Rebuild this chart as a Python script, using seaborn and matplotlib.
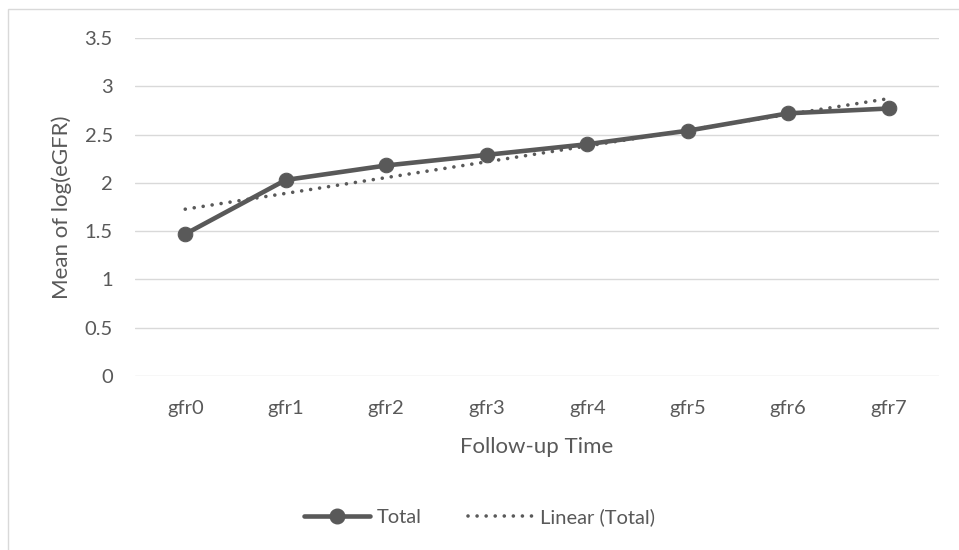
import numpy as np
import pandas as pd
import matplotlib
matplotlib.use("Agg")
import matplotlib.pyplot as plt
import seaborn as sns
from matplotlib.patches import Rectangle
from matplotlib.lines import Line2D

categories = ["gfr0", "gfr1", "gfr2", "gfr3", "gfr4", "gfr5", "gfr6", "gfr7"]
total = [1.47, 2.03, 2.18, 2.29, 2.40, 2.54, 2.72, 2.77]
yticks = [0, 0.5, 1, 1.5, 2, 2.5, 3, 3.5]
ytick_labels = ["0", "0.5", "1", "1.5", "2", "2.5", "3", "3.5"]

sns.set_style("white")
plt.rcParams['font.family'] = ['Lato', 'DejaVu Sans']

GRAY = "#595959"
DOT = (0, (0.01, 2.5))
fig = plt.figure(figsize=(9.59, 5.5), dpi=100)
ax = fig.add_axes([135/959, (550-376)/550, (939-135)/959, (376-38)/550])

x = np.arange(len(categories))
df = pd.DataFrame({"pos": x, "Total": total})
coef = np.polyfit(x, np.array(total), 1)
df["trend"] = np.polyval(coef, x)

sns.lineplot(data=df, x="pos", y="trend", ax=ax, color=GRAY, lw=2.6,
             linestyle=DOT, dash_capstyle="round", zorder=2)
sns.lineplot(data=df, x="pos", y="Total", ax=ax, color=GRAY, lw=3.3,
             marker="o", markersize=10.5, markeredgecolor=GRAY, zorder=3)

ax.set_xlim(-0.5, 7.5)
ax.set_ylim(0, 3.5)
ax.set_xticks(x)
ax.set_xticklabels(categories)
ax.set_yticks(yticks)
ax.set_yticklabels(ytick_labels)
ax.tick_params(axis="both", labelsize=14.5, colors=GRAY, length=0)
ax.tick_params(axis="x", pad=17)
ax.tick_params(axis="y", pad=16)
ax.grid(axis="y", color="#D9D9D9", lw=1.0)
ax.grid(axis="x", visible=False)
for s in ax.spines.values():
    s.set_visible(False)
ax.set_xlabel("Follow-up Time", fontsize=16, color=GRAY, labelpad=15)
ax.set_ylabel("Mean of log(eGFR)", fontsize=16, color=GRAY, labelpad=9)

# chart border
fig.patches.append(Rectangle((8/959, -0.1), 1.2, (550-9)/550 + 0.1,
                             transform=fig.transFigure, fill=False,
                             edgecolor="#D9D9D9", lw=1.0))

handles = [Line2D([0], [0], color=GRAY, lw=3.3, marker="o", markersize=10.5),
           Line2D([0], [0], color=GRAY, lw=2.6, linestyle=DOT,
                  dash_capstyle="round")]
leg = fig.legend(handles, ["Total", "Linear (Total)"], loc="center",
                 bbox_to_anchor=(0.5, 1 - 517/550), ncol=2, frameon=False,
                 fontsize=14.5, handlelength=3.3, columnspacing=2.3,
                 handletextpad=0.3)
for t in leg.get_texts():
    t.set_color(GRAY)

fig.savefig("out.png", dpi=100)
